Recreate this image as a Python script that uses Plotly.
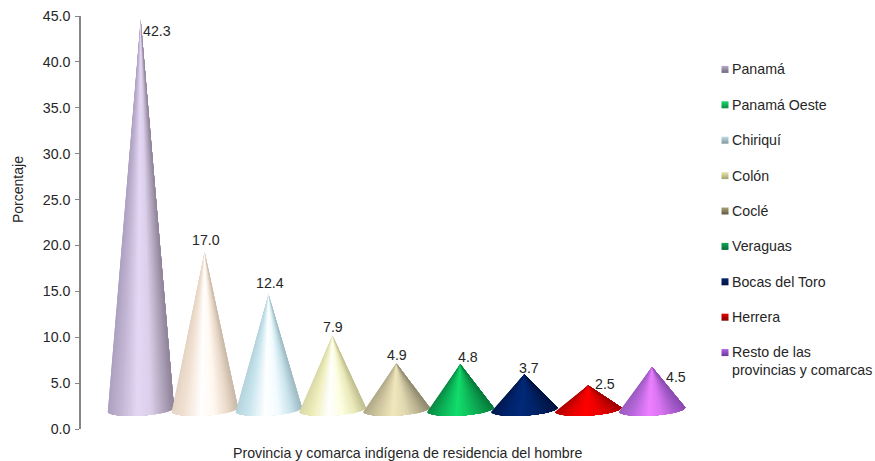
import math
import plotly.graph_objects as go

CATEGORIES = ["Panamá", "Panamá Oeste", "Chiriquí", "Colón", "Coclé",
              "Veraguas", "Bocas del Toro", "Herrera", "Resto de las provincias y comarcas"]
VALUES = [42.3, 17.0, 12.4, 7.9, 4.9, 4.8, 3.7, 2.5, 4.5]
LEGEND_LABELS = ["Panamá", "Panamá Oeste", "Chiriquí", "Colón", "Coclé",
                 "Veraguas", "Bocas del Toro", "Herrera", "Resto de las<br>provincias y comarcas"]
LEGEND_COLORS = ["#b8acca", "#17d86c", "#c3dbe3", "#e8e8ae", "#a8a278",
                 "#0ea858", "#0a2468", "#e80000", "#b060e0"]
LEGEND_SHADES = ["#6f667c", "#0c8a44", "#7f97a0", "#a0a070", "#5f5a40",
                 "#086a36", "#001444", "#800000", "#70389a"]
LABEL_DX = [16, 1, 1, 1, 1, 8, 5, 17, 24]
LABEL_DY = [11, -12, -12, -9, -8, -7, -6, -1, 10]

GRAD_POS = [0, 0.2, 0.45, 0.65, 0.85, 1]
GRADIENTS = [
    ["#aca0c0", "#c2b5d3", "#e4d7f5", "#dccfea", "#b0a4bc", "#8e8398"],
    ["#e4d4c4", "#f2e2d3", "#ffffff", "#fff8f0", "#ead9c9", "#c8b8a8"],
    ["#b5d3dc", "#c9e6ee", "#ffffff", "#f2fbff", "#c7e2ea", "#9fb9c2"],
    ["#d9d9a8", "#eeeebc", "#ffffff", "#fdfde0", "#e8e8b8", "#bfbf90"],
    ["#b0a987", "#cfc6a0", "#f0e7bd", "#e0d8b0", "#b8b08f", "#8f8a70"],
    ["#0a8a45", "#0bb358", "#12dd6c", "#0fbf5c", "#0a9a4c", "#077a3a"],
    ["#001a50", "#00226a", "#022a78", "#00246c", "#001c55", "#001444"],
    ["#b00000", "#e00000", "#ff0000", "#f00000", "#cc0000", "#a00000"],
    ["#9a5cc0", "#b868dc", "#ee80ff", "#d874f0", "#a85ccc", "#8a4cb0"],
]

FONT = "Liberation Sans"
TXT = "#262626"
FS = 14.2
STRIPS = 40
BASE_Y = 2.125     # centre of the cone base, in axis units (3D floor offset)
APEX_OFF = 2.25
RX = 0.521
RY = 0.675
TILT = 0.218


def hex2rgb(h):
    return [int(h[i:i + 2], 16) for i in (1, 3, 5)]


def grad(stops, f):
    for k in range(len(GRAD_POS) - 1):
        if f <= GRAD_POS[k + 1]:
            u = (f - GRAD_POS[k]) / (GRAD_POS[k + 1] - GRAD_POS[k])
            a, b = hex2rgb(stops[k]), hex2rgb(stops[k + 1])
            return "rgb(%d,%d,%d)" % tuple(round(a[c] + (b[c] - a[c]) * u) for c in range(3))
    return stops[-1]


def paper_x(px):
    return (px - 81) / 794


def paper_y(py):
    return (429 - py) / 413


fig = go.Figure()
ts = [math.pi * j / STRIPS for j in range(STRIPS + 1)]
for i, (cat, val) in enumerate(zip(CATEGORIES, VALUES)):
    apex_y = val + APEX_OFF
    for j in range(STRIPS):
        arc = ts[j:]
        xs = [i] + [i - RX * math.cos(t) for t in arc] + [i]
        ys = [apex_y] + [BASE_Y - TILT * math.cos(t) - RY * math.sin(t) for t in arc] + [apex_y]
        f = (1 - math.cos((ts[j] + ts[j + 1]) / 2)) / 2
        fig.add_trace(go.Scatter(x=xs, y=ys, mode="lines", fill="toself",
                                 fillcolor=grad(GRADIENTS[i], f), line=dict(width=0),
                                 name=cat, showlegend=False, hoverinfo="skip"))
    fig.add_annotation(x=i, y=apex_y, xref="x", yref="y", text=f"{val:.1f}", showarrow=False,
                       xshift=LABEL_DX[i], yshift=-LABEL_DY[i],
                       font=dict(family=FONT, size=FS, color=TXT))

# Hand-set legend on a pixel-scaled overlay axis
leg_y = [69.4 + 35.4 * k for k in range(len(LEGEND_LABELS))]
fig.add_trace(go.Scatter(x=[725] * len(leg_y), y=leg_y, xaxis="x2", yaxis="y2", mode="markers",
                         marker=dict(symbol="square", size=7, color=LEGEND_COLORS, line=dict(width=0),
                                     gradient=dict(type="vertical", color=LEGEND_SHADES)),
                         showlegend=False, hoverinfo="skip", cliponaxis=False))
for lab, y in zip(LEGEND_LABELS, leg_y):
    fig.add_annotation(x=730, y=y, xref="x2", yref="y2", text=lab, showarrow=False, xanchor="left",
                       yanchor="middle", align="left", yshift=-8.5 if "<br>" in lab else 0,
                       font=dict(family=FONT, size=FS, color=TXT))

fig.update_layout(
    autosize=False, width=875, height=461, paper_bgcolor="white", plot_bgcolor="white",
    margin=dict(l=81, r=0, t=16, b=32), showlegend=False,
    font=dict(family=FONT, size=FS, color=TXT),
    xaxis=dict(range=[-0.934, 11.49], showgrid=False, zeroline=False, showline=False,
               showticklabels=False, ticks="", fixedrange=True),
    yaxis=dict(range=[0, 45], dtick=5, tickformat=".1f", showgrid=False, zeroline=False,
               showline=True, linecolor="#868686", linewidth=1.5, ticks="outside", ticklen=4,
               tickcolor="#868686", tickwidth=1, ticklabelstandoff=2,
               tickfont=dict(family=FONT, size=FS, color=TXT), fixedrange=True),
    xaxis2=dict(range=[81, 875], overlaying="x", visible=False, fixedrange=True),
    yaxis2=dict(range=[429, 16], overlaying="y", visible=False, fixedrange=True),
)
fig.add_annotation(text="Porcentaje", xref="paper", yref="paper", x=paper_x(17.5), y=paper_y(189.5),
                   xanchor="center", yanchor="middle", showarrow=False, textangle=-90,
                   font=dict(family=FONT, size=14, color=TXT))
fig.add_annotation(text="Provincia y comarca indígena de residencia del hombre", xref="paper", yref="paper",
                   x=paper_x(407), y=paper_y(453), xanchor="center", yanchor="middle", showarrow=False,
                   font=dict(family=FONT, size=FS, color=TXT))
fig.write_html("out.html", post_script="document.body.style.margin='0';",
               config=dict(displayModeBar=False))
